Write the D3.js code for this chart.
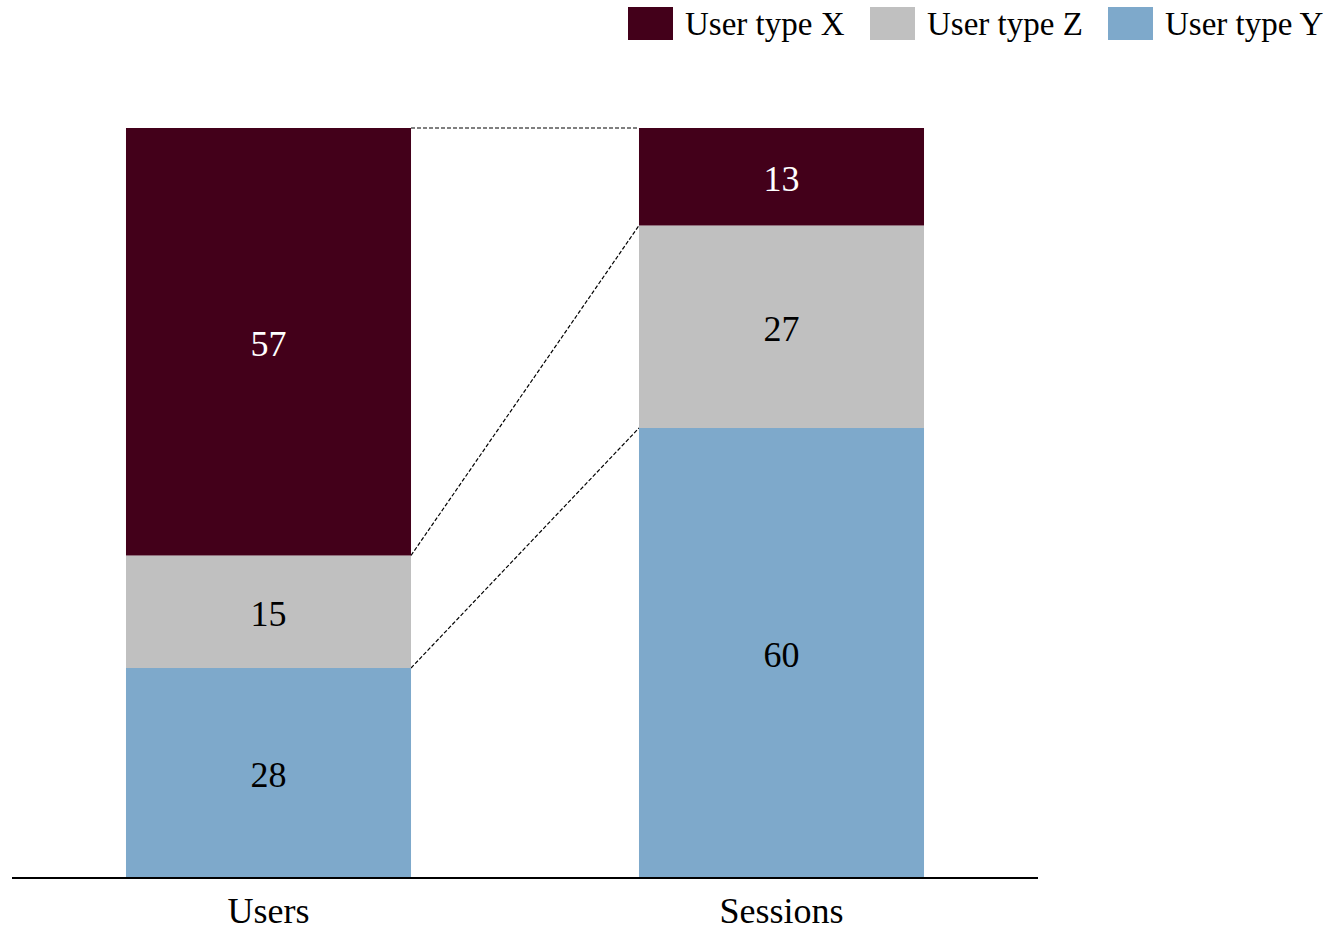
<!DOCTYPE html>
<html>
<head>
<meta charset="utf-8">
<script src="https://cdn.jsdelivr.net/npm/d3@7"></script>
<style>
  html, body { margin: 0; padding: 0; background: #fff; }
  svg { display: block; font-family: "Liberation Serif", "DejaVu Serif", serif; }
</style>
</head>
<body>
<svg id="chart" width="1344" height="931"></svg>
<script>
const categories = ["Users", "Sessions"];
const seriesNames = ["User type Y", "User type Z", "User type X"]; // bottom to top
const userTypeY = [28, 60];
const userTypeZ = [15, 27];
const userTypeX = [57, 13];
const legendOrder = ["User type X", "User type Z", "User type Y"];
const colors = { "User type X": "#43001a", "User type Z": "#c0c0c0", "User type Y": "#7ea9cb" };
const labelColors = { "User type X": "#ffffff", "User type Z": "#000000", "User type Y": "#000000" };

const rows = categories.map((c, i) => ({
  cat: c,
  "User type Y": userTypeY[i],
  "User type Z": userTypeZ[i],
  "User type X": userTypeX[i]
}));

const svg = d3.select("#chart");
const x = d3.scaleBand().domain(categories).range([12, 1038]).paddingInner(0.4444).paddingOuter(0.2222);
const y = d3.scaleLinear().domain([0, 100]).range([878, 128]);

const stack = d3.stack().keys(seriesNames);
const layers = stack(rows);

// connectors (dashed)
const bw = x.bandwidth();
const connectorLevels = layers.map(layer => [layer[0][1], layer[1][1]]);
svg.append("g").selectAll("line").data(connectorLevels).join("line")
  .attr("x1", x("Users") + bw)
  .attr("x2", x("Sessions"))
  .attr("y1", d => y(d[0]))
  .attr("y2", d => y(d[1]))
  .attr("stroke", "#000")
  .attr("stroke-width", 1.2)
  .attr("stroke-dasharray", "4,2");

const g = svg.append("g");
layers.forEach(layer => {
  const key = layer.key;
  g.selectAll(null).data(layer).join("rect")
    .attr("x", d => x(d.data.cat))
    .attr("width", bw)
    .attr("y", d => y(d[1]))
    .attr("height", d => y(d[0]) - y(d[1]))
    .attr("fill", colors[key]);
  g.selectAll(null).data(layer).join("text")
    .attr("x", d => x(d.data.cat) + bw / 2)
    .attr("y", d => (y(d[0]) + y(d[1])) / 2)
    .attr("dy", "0.4em")
    .attr("text-anchor", "middle")
    .attr("font-size", 36)
    .attr("fill", labelColors[key])
    .text(d => d.data[key]);
});

// axis
const axis = svg.append("g").attr("transform", "translate(0,878)")
  .call(d3.axisBottom(x).tickSize(0).tickPadding(19));
axis.select(".domain").attr("stroke", "#000").attr("stroke-width", 2).attr("d", "M12,0H1038");
axis.selectAll("text").attr("font-size", 36).attr("fill", "#000")
  .attr("font-family", "Liberation Serif, DejaVu Serif, serif");

// legend
const legendX = [628, 870, 1108];
const lg = svg.append("g");
legendOrder.forEach((name, i) => {
  lg.append("rect").attr("x", legendX[i]).attr("y", 7).attr("width", 45).attr("height", 33).attr("fill", colors[name]);
  lg.append("text").attr("x", legendX[i] + 57).attr("y", 35).attr("font-size", 33).attr("fill", "#000").text(name);
});
</script>
</body>
</html>
